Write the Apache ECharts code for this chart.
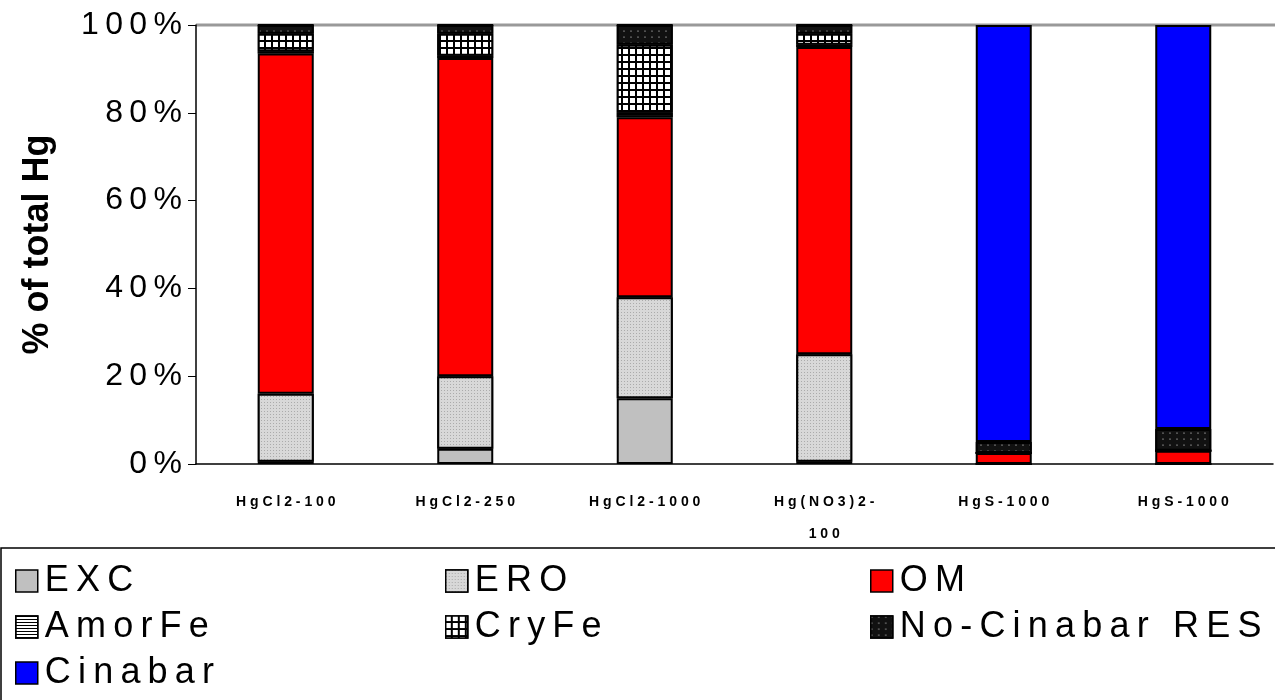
<!DOCTYPE html>
<html><head><meta charset="utf-8">
<script src="https://cdn.jsdelivr.net/npm/echarts@6/dist/echarts.min.js"></script>
<style>body{margin:0}#c{width:1275px;height:700px}</style>
</head><body><div id="c"></div>
<script>
var chart = echarts.init(document.getElementById('c'));
var categories = ['HgCl2-100', 'HgCl2-250', 'HgCl2-1000', 'Hg(NO3)2-\n100', 'HgS-1000', 'HgS-1000'];
var exc = [0.5, 3.5, 15, 0.5, 0, 0];
var ero = [15.5, 16.5, 23, 24.5, 0, 0];
var om = [77.5, 72.5, 41, 70, 2.5, 3];
var amorFe = [0.5, 0.5, 1, 0.5, 0, 0];
var cryFe = [4, 5, 15.5, 2.5, 0, 0];
var noCinabar = [2, 2, 4.5, 2, 2.5, 5];
var cinabar = [0, 0, 0, 0, 95, 92];
var yTicks = ['0%', '20%', '40%', '60%', '80%', '100%'];

// letter-spaced look of the original
function spaced(s, sp) { return s.split('\n').map(function (p) { return p.split('').join(sp || '\u2009'); }).join('\n'); }

var styles = {
  'EXC': { color: '#c0c0c0' },
  'ERO': { color: '#d8d8d8', decal: { symbol: 'rect', color: '#444', symbolSize: 0.6, dashArrayX: [[1, 2]], dashArrayY: [1, 2], backgroundColor: '#d8d8d8' } },
  'OM': { color: '#ff0000' },
  'AmorFe': { color: '#ffffff', decal: { symbol: 'rect', color: '#000', dashArrayX: [[1, 0]], dashArrayY: [1, 2] } },
  'CryFe': { color: '#000000', decal: { symbol: 'rect', color: '#fff', symbolSize: 1, dashArrayX: [[5, 2]], dashArrayY: [5, 2], backgroundColor: '#000' } },
  'No-Cinabar RES': { color: '#111111', decal: { symbol: 'circle', color: '#fff', symbolSize: 0.6, dashArrayX: [[2, 5]], dashArrayY: [2, 4], backgroundColor: '#111' } },
  'Cinabar': { color: '#0000ff' }
};
var seriesData = [['EXC', exc], ['ERO', ero], ['OM', om], ['AmorFe', amorFe], ['CryFe', cryFe], ['No-Cinabar RES', noCinabar], ['Cinabar', cinabar]];

var legendText = { fontFamily: 'Liberation Sans', fontSize: 36, color: '#000', padding: [0, 0, 0, 2] };
function legendCol(left, names) {
  return { orient: 'vertical', left: left, top: 558, itemGap: 10, itemWidth: 22, itemHeight: 22,
    icon: 'rect', selectedMode: false, data: names, textStyle: legendText, itemStyle: { borderColor: '#000', borderWidth: 1.5 },
    formatter: function (n) { return spaced(n); } };
}

chart.setOption({
  animation: false,
  grid: { left: 196, right: 2, top: 25, bottom: 236 },
  graphic: [{ type: 'rect', shape: { x: 1, y: 548, width: 1290, height: 160 }, style: { fill: 'none', stroke: '#000', lineWidth: 1.5 } },
            { type: 'line', shape: { x1: 196, y1: 25, x2: 1275, y2: 25 }, style: { stroke: '#999', lineWidth: 3 } }],
  legend: [legendCol(10, ['EXC', 'AmorFe', 'Cinabar']), legendCol(440, ['ERO', 'CryFe']), legendCol(865, ['OM', 'No-Cinabar RES'])],
  xAxis: { type: 'category', data: categories,
    axisLine: { lineStyle: { color: '#000', width: 1.5 } }, axisTick: { length: 6, lineStyle: { color: '#000' } },
    axisLabel: { fontFamily: 'Liberation Sans', fontSize: 14, fontWeight: 'bold', color: '#000', margin: 22, lineHeight: 32,
      formatter: function (v) { return spaced(v, ' '); } } },
  yAxis: { type: 'value', min: 0, max: 100, interval: 20, name: '% of total Hg', nameLocation: 'middle', nameGap: 140,
    nameTextStyle: { fontFamily: 'Liberation Sans', fontSize: 36, fontWeight: 'bold', color: '#000' },
    axisLine: { show: true, lineStyle: { color: '#000', width: 1.5 } }, axisTick: { show: true, length: 8, lineStyle: { color: '#000' } },
    splitLine: { show: false },
    axisLabel: { fontFamily: 'Liberation Sans', fontSize: 32, color: '#000', margin: 14,
      formatter: function (v) { return spaced(yTicks[v / 20]); } } },
  series: seriesData.map(function (s) {
    var st = { color: styles[s[0]].color, borderColor: '#000', borderWidth: 2 };
    if (styles[s[0]].decal) st.decal = styles[s[0]].decal;
    return { name: s[0], type: 'bar', stack: 'sum', barWidth: 56, data: s[1], itemStyle: st };
  })
});
</script></body></html>
